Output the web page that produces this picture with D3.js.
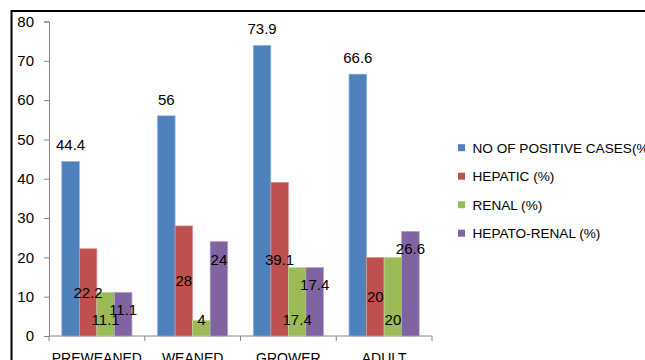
<!DOCTYPE html>
<html>
<head>
<meta charset="utf-8">
<script src="https://cdn.jsdelivr.net/npm/d3@7"></script>
<style>
  body { margin: 0; background: #fff; }
  svg { display: block; font-family: "Liberation Sans", Arial, sans-serif; }
</style>
</head>
<body>
<svg id="chart" width="645" height="360"></svg>
<script>
// data
const categories = ['PREWEANED', 'WEANED', 'GROWER', 'ADULT'];
const seriesNames = ['NO OF POSITIVE CASES(%)', 'HEPATIC (%)', 'RENAL (%)', 'HEPATO-RENAL (%)'];
const positive = [44.4, 56, 73.9, 66.6];
const hepatic = [22.2, 28, 39.1, 20];
const renal = [11.1, 4, 17.4, 20];
const hepatoRenal = [11.1, 24, 17.4, 26.6];
const yTicks = [0, 10, 20, 30, 40, 50, 60, 70, 80];

const colors = ['#4F81BD', '#C0504D', '#9BBB59', '#8064A2'];
const strokes = ['#8DB0DB', '#D99694', '#C3D69B', '#B3A2C7'];
const allSeries = [positive, hepatic, renal, hepatoRenal];

const svg = d3.select('#chart');

// outer frame (runs off the right and bottom edges)
svg.append('rect')
    .attr('x', 11.5).attr('y', 11)
    .attr('width', 700).attr('height', 400)
    .attr('fill', 'none').attr('stroke', '#000').attr('stroke-width', 2);

const y = d3.scaleLinear().domain([0, 80]).range([336, 21.5]);
const x0 = d3.scaleBand().domain(categories).range([49, 432]).padding(0);
const pad = 12.8;
const x1 = d3.scaleBand().domain(d3.range(4)).range([pad, x0.bandwidth() - pad]).padding(0);

// y axis
const yAxis = svg.append('g')
    .attr('transform', 'translate(49,0)')
    .call(d3.axisLeft(y).tickValues(yTicks).tickSize(5).tickPadding(10));
yAxis.select('.domain').attr('stroke', '#868686');
yAxis.selectAll('.tick line').attr('stroke', '#868686');
yAxis.selectAll('.tick text').attr('font-size', 15).attr('fill', '#000')
    .attr('font-family', '"Liberation Sans", Arial, sans-serif');

// x axis (boundary ticks between categories)
const xAxisG = svg.append('g').attr('transform', 'translate(0,336)');
xAxisG.append('line').attr('x1', 49).attr('x2', 432).attr('stroke', '#868686');
xAxisG.selectAll('line.tk')
    .data(categories.concat(['end']))
    .enter().append('line')
    .attr('class', 'tk')
    .attr('x1', (d, i) => i < 4 ? x0(d) : x0.range()[1])
    .attr('x2', (d, i) => i < 4 ? x0(d) : x0.range()[1])
    .attr('y1', 0).attr('y2', 5)
    .attr('stroke', '#868686');
xAxisG.selectAll('text')
    .data(categories)
    .enter().append('text')
    .attr('x', d => x0(d) + x0.bandwidth() / 2)
    .attr('y', 27)
    .attr('text-anchor', 'middle')
    .attr('font-size', 14)
    .text(d => d);

// bars
const groups = svg.selectAll('g.cat')
    .data(categories)
    .enter().append('g')
    .attr('class', 'cat')
    .attr('transform', d => 'translate(' + x0(d) + ',0)');

groups.selectAll('rect')
    .data((d, ci) => allSeries.map((s, si) => ({ si: si, v: s[ci] })))
    .enter().append('rect')
    .attr('x', d => x1(d.si))
    .attr('y', d => y(d.v))
    .attr('width', x1.bandwidth())
    .attr('height', d => y(0) - y(d.v))
    .attr('fill', d => colors[d.si])
    .attr('stroke', d => strokes[d.si])
    .attr('stroke-width', 0.7);

// data labels: blue outside end, red centre, green inside base, purple inside end
function labelY(d) {
    if (d.si === 0) return y(d.v) - 16.5;
    if (d.si === 1) return (y(d.v) + y(0)) / 2;
    if (d.si === 2) return y(0) - 16;
    return y(d.v) + 17.5;
}
groups.selectAll('text')
    .data((d, ci) => allSeries.map((s, si) => ({ si: si, v: s[ci] })))
    .enter().append('text')
    .attr('x', d => x1(d.si) + x1.bandwidth() / 2)
    .attr('y', labelY)
    .attr('dy', '0.36em')
    .attr('text-anchor', 'middle')
    .attr('font-size', 15)
    .attr('fill', '#000')
    .text(d => d.v);

// legend
const legend = svg.selectAll('g.leg')
    .data(seriesNames)
    .enter().append('g')
    .attr('class', 'leg')
    .attr('transform', (d, i) => 'translate(458,' + (147.7 + i * 28.5) + ')');
legend.append('rect')
    .attr('x', 0).attr('y', -3.5)
    .attr('width', 7).attr('height', 7)
    .attr('fill', (d, i) => colors[i]);
legend.append('text')
    .attr('x', 14.5).attr('dy', '0.36em')
    .attr('font-size', 13.6)
    .text(d => d);
</script>
</body>
</html>
